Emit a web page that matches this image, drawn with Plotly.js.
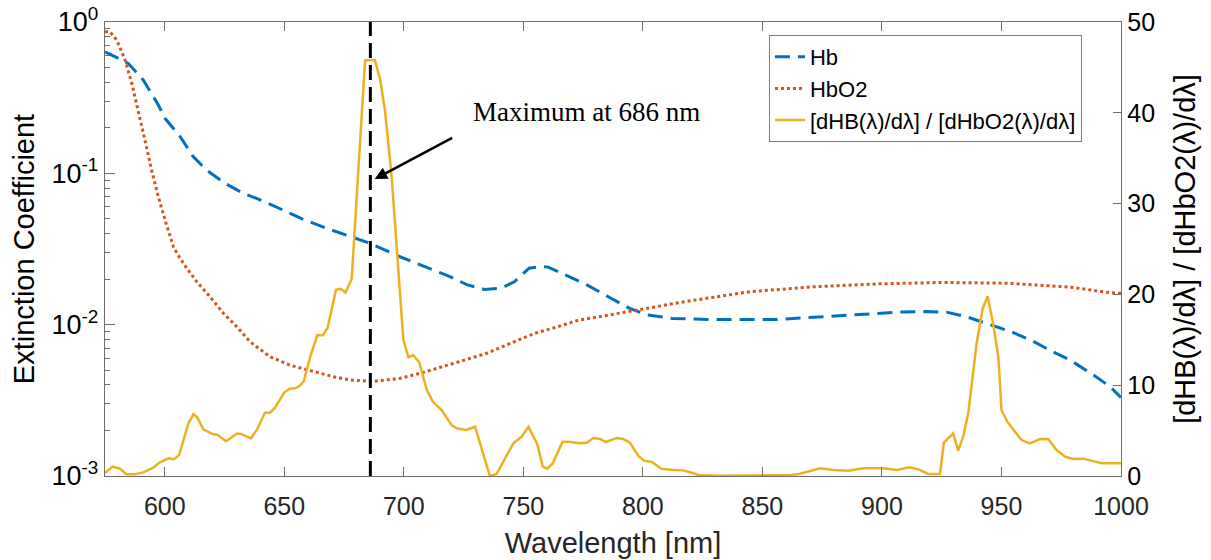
<!DOCTYPE html>
<html>
<head>
<meta charset="utf-8">
<script src="https://cdn.plot.ly/plotly-3.0.1.min.js"></script>
<style>html,body{margin:0;padding:0;background:#fff;}#chart{width:1211px;height:560px;}</style>
</head>
<body>
<div id="chart"></div>
<script>
// ---- Data ----
const hbWavelength = [575,578.5,584.7,591,597.3,600.1,606.4,611.9,617.5,625.2,632.8,641.2,649.6,657.9,667.7,676.1,685.8,698.4,711,719.3,726.3,733.6,740.8,746.2,752.4,757.8,760.4,767.7,776.6,785.5,794.5,801.6,812.4,830.3,855.4,871.5,889.4,907.3,918,927,936,944.9,953.9,963,970,979,988,995.4,1000];
const hbValues = [0.636,0.596,0.533,0.414,0.283,0.231,0.175,0.129,0.105,0.0859,0.0738,0.0656,0.0572,0.0497,0.0433,0.0391,0.0345,0.0281,0.0234,0.0208,0.0184,0.0171,0.0174,0.0192,0.0236,0.0242,0.024,0.0213,0.0183,0.0153,0.0128,0.0116,0.011,0.0108,0.0108,0.0112,0.0116,0.0121,0.0122,0.0121,0.0112,0.0101,0.009,0.0078,0.0068,0.0058,0.0047,0.0039,0.0033];

const hbo2Wavelength = [575,577.1,579.9,583.4,586.2,588.9,591.7,594.5,597.3,600.1,603.6,605.5,609.2,613.4,618.9,624.5,630.1,635.7,644,652.4,660.8,670.5,677.5,684.4,687.2,698.4,706.8,720,735,748.6,755.1,762.5,773,786,798,817.7,844.6,871.5,898.4,925.2,952.1,978.9,995,1000];
const hbo2Values = [0.863,0.86,0.76,0.561,0.394,0.262,0.166,0.105,0.0701,0.0492,0.0328,0.0289,0.0236,0.0192,0.0153,0.0119,0.0097,0.0077,0.00614,0.0054,0.00497,0.00453,0.00431,0.00426,0.00422,0.00442,0.00477,0.0055,0.0065,0.008,0.0088,0.0095,0.0107,0.0116,0.0125,0.0142,0.0165,0.0178,0.0186,0.019,0.0188,0.0177,0.0163,0.0161];

const ratioWavelength = [575,578.2,581.3,584,587.5,591,595.2,598,601.5,603.9,606,609.9,612,613.6,616.1,620.3,622,625.6,630.1,631.7,636,638.5,641.9,644,646.1,649.9,652.1,654.5,656.3,658.2,660.8,663.8,666.1,668.1,671.6,673.5,675.6,678.2,679.6,683.8,687.9,690,692.1,694.9,699.8,701.9,704,706.5,709.6,712.1,715.8,720,722.1,726,729.8,736,738.8,745.8,749.3,752.1,755.8,758.1,760,762.3,766.4,768.8,773.7,776.5,779.3,782.1,784.6,789.1,791.8,794.6,798.1,800.5,803.7,807.8,812.7,816.9,819.4,823.2,832.3,850,862,865.3,874.1,879.7,885.9,892.2,900.6,906.2,911.7,915.2,919.4,924.3,925.9,929.8,931.9,934,936.1,939.6,942.1,944.2,946.5,948.7,950,952.4,954.9,958.4,961.9,966.1,969.6,973.1,976.6,980,984.2,987.7,991.9,1000];
const ratioValues = [0.36,1.03,0.8,0.18,0.18,0.4,0.92,1.5,1.95,1.84,2.3,5.8,6.8,6.46,5.14,4.59,4.55,3.82,4.66,4.66,4.15,5.07,6.97,6.97,7.52,9.17,9.6,9.66,9.91,10.46,13.1,15.5,15.5,16.3,20.5,20.6,20.2,21.7,27.8,45.8,45.8,43.8,40.3,33,15,13.1,13.3,12.5,9.5,8.2,7.27,5.6,5.25,5.07,5.43,0,0.22,3.6,4.33,5.43,3.52,1.03,0.8,1.4,3.78,3.78,3.6,3.67,4.19,4.07,3.74,4.19,4.07,3.67,2.2,1.69,1.54,0.8,0.66,0.62,0.44,0.11,0.03,0.03,0.1,0.22,0.84,0.66,0.59,0.84,0.84,0.66,0.95,0.73,0.22,0.22,3.67,4.7,2.79,4.33,6.9,14.6,18.4,19.8,16.8,13.1,7.27,5.98,5.14,3.96,3.6,4.07,4.04,2.86,2.13,1.87,1.91,1.69,1.4,1.4];

const seriesNames = ['Hb', 'HbO2', '[dHB(λ)/dλ] / [dHbO2(λ)/dλ]'];
const peakWavelength = 686;
const peakLabel = 'Maximum at 686 nm';

const xTickVals = [600,650,700,750,800,850,900,950,1000];
const leftTickVals = [0.001,0.01,0.1,1];
const leftTickText = ['10<sup>-3</sup>','10<sup>-2</sup>','10<sup>-1</sup>','10<sup>0</sup>'];
const rightTickVals = [0,10,20,30,40,50];

// minor log ticks 2..9 per decade
const leftMinorVals = [];
for (let e = -3; e < 0; e++) for (let m = 2; m <= 9; m++) leftMinorVals.push(m * Math.pow(10, e));

const axisLine = '#6e6e6e';
const sans = 'Liberation Sans, Arial, sans-serif';

const traces = [
  {x: hbWavelength, y: hbValues, name: seriesNames[0], type: 'scatter', mode: 'lines',
   line: {color: '#0072BD', width: 3, dash: '15px,8px'}, yaxis: 'y'},
  {x: hbo2Wavelength, y: hbo2Values, name: seriesNames[1], type: 'scatter', mode: 'lines',
   line: {color: '#D95319', width: 3, dash: '3px,3px'}, yaxis: 'y'},
  {x: ratioWavelength, y: ratioValues, name: seriesNames[2], type: 'scatter', mode: 'lines',
   line: {color: '#EDB120', width: 2.5}, yaxis: 'y2'}
];

const layout = {
  width: 1211, height: 560,
  margin: {l: 105, r: 90, t: 22, b: 84},
  paper_bgcolor: '#fff', plot_bgcolor: '#fff',
  showlegend: true,
  legend: {x: 0.6535, y: 0.9714, xanchor: 'left', yanchor: 'top',
    bgcolor: '#fff', bordercolor: '#7f7f7f', borderwidth: 1,
    font: {family: sans, size: 22, color: '#000'}, tracegroupgap: 0},
  xaxis: {range: [575, 1000], tickmode: 'array', tickvals: xTickVals,
    ticks: 'inside', ticklen: 9, tickcolor: axisLine, showline: true, linecolor: axisLine, linewidth: 1.3,
    mirror: 'ticks', showgrid: false, zeroline: false, ticklabelstandoff: 8,
    tickfont: {family: sans, size: 25, color: '#262626'},
    title: {text: 'Wavelength [nm]', font: {family: sans, size: 29, color: '#262626'}, standoff: 13}},
  yaxis: {type: 'log', range: [-3, 0], tickmode: 'array', tickvals: leftTickVals, ticktext: leftTickText,
    ticks: 'inside', ticklen: 10, tickcolor: axisLine, showline: true, linecolor: axisLine, linewidth: 1.3,
    showgrid: false, zeroline: false,
    minor: {tickmode: 'array', tickvals: leftMinorVals, ticks: 'inside', ticklen: 5, tickcolor: axisLine, showgrid: false},
    tickfont: {family: sans, size: 27, color: '#000'},
    title: {text: 'Extinction Coefficient', font: {family: sans, size: 29, color: '#000'}, standoff: 8}},
  yaxis2: {overlaying: 'y', side: 'right', range: [0, 50], tickmode: 'array', tickvals: rightTickVals,
    ticks: 'inside', ticklen: 8, tickcolor: axisLine, showline: true, linecolor: axisLine, linewidth: 1.3,
    showgrid: false, zeroline: false,
    tickfont: {family: sans, size: 25, color: '#000'},
    title: {text: '[dHB(λ)/dλ] / [dHbO2(λ)/dλ]', font: {family: sans, size: 29, color: '#000'}, standoff: 20}},
  shapes: [{type: 'line', xref: 'x', yref: 'paper', x0: peakWavelength, x1: peakWavelength, y0: 0, y1: 1,
    line: {color: '#000', width: 3, dash: '15px,7px'}}],
  annotations: [
    {xref: 'x', yref: 'y2', x: peakWavelength + 1.8, y: 32.7, ax: 79, ay: -42, text: '',
     showarrow: true, arrowhead: 2, arrowsize: 1, arrowwidth: 2.5, arrowcolor: '#000'},
    {xref: 'x', yref: 'y2', x: 776.6, y: 40.1, text: peakLabel, showarrow: false,
     xanchor: 'center', yanchor: 'middle',
     font: {family: 'Liberation Serif, Times New Roman, serif', size: 27, color: '#000'}}
  ]
};

Plotly.newPlot('chart', traces, layout, {displayModeBar: false, staticPlot: true});
</script>
</body>
</html>
